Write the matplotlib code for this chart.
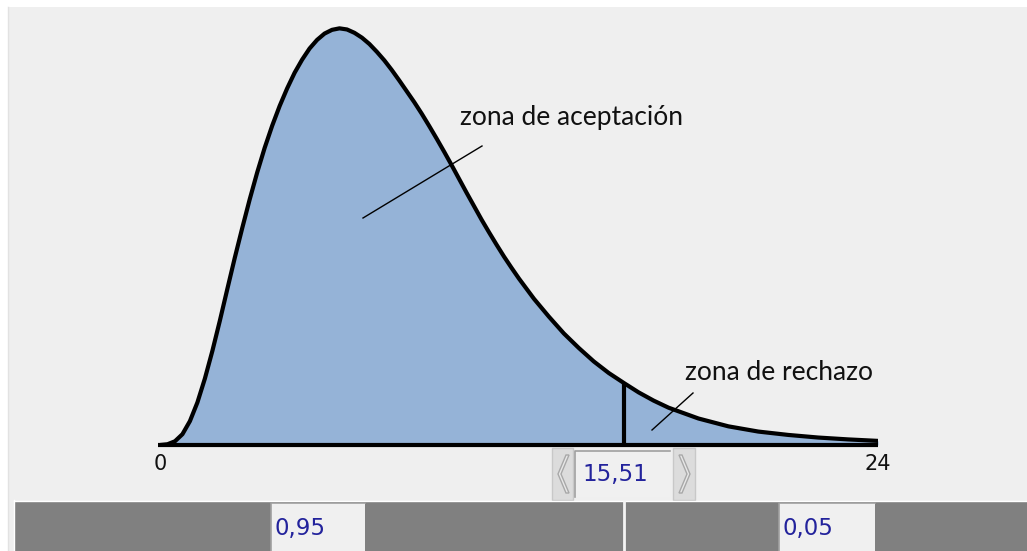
import matplotlib
matplotlib.use("Agg")
import matplotlib.pyplot as plt
from matplotlib.patches import Rectangle, Polygon

# density curve (chi-square, 8 d.f.)
curve_x = [0.0, 0.25, 0.5, 0.75, 1.0, 1.25, 1.5, 1.75, 2.0, 2.25, 2.5, 2.75,
           3.0, 3.25, 3.5, 3.75, 4.0, 4.25, 4.5, 4.75, 5.0, 5.25, 5.5, 5.75,
           6.0, 6.25, 6.5, 6.75, 7.0, 7.25, 7.5, 7.75, 8.0, 8.25, 8.5, 8.75,
           9.0, 9.25, 9.5, 9.75, 10.0, 10.25, 10.5, 10.75, 11.0, 11.25, 11.5,
           11.75, 12.0, 12.5, 13.0, 13.5, 14.0, 14.5, 15.0, 15.51, 16.0, 16.5,
           17.0, 18.0, 19.0, 20.0, 21.0, 22.0, 23.0, 24.0]
curve_y = [0.0, 0.0002, 0.0010, 0.0029, 0.0064, 0.0114, 0.0178, 0.0252, 0.0333,
           0.0418, 0.0502, 0.0582, 0.0659, 0.0731, 0.0797, 0.0856, 0.0909, 0.0956,
           0.0998, 0.1033, 0.1063, 0.1086, 0.1103, 0.1113, 0.1117, 0.1114, 0.1105,
           0.1092, 0.1075, 0.1054, 0.1031, 0.1005, 0.0977, 0.0948, 0.0919, 0.0888,
           0.0855, 0.0821, 0.0786, 0.0750, 0.0713, 0.0676, 0.0640, 0.0604, 0.0570,
           0.0537, 0.0505, 0.0475, 0.0446, 0.0392, 0.0344, 0.0299, 0.0260, 0.0224,
           0.0193, 0.0166, 0.0141, 0.0119, 0.0100, 0.0071, 0.0050, 0.0036, 0.0027,
           0.0020, 0.0015, 0.0011]
x_min, x_max = 0, 24
critical = 15.51
critical_height = 0.0166
tick_labels = ["0", "24"]
crit_label = "15,51"
accept_label = "0,95"
reject_label = "0,05"
zone_labels = ["zona de aceptación", "zona de rechazo"]

W, H = 1027, 551
fig = plt.figure(figsize=(W / 100, H / 100), dpi=100)
fig.patch.set_facecolor("white")

# pixel-coordinate axes for the window chrome
ui = fig.add_axes([0, 0, 1, 1], zorder=0)
ui.set_xlim(0, W)
ui.set_ylim(H, 0)
ui.axis("off")

ui.add_patch(Rectangle((8, 7), W - 8, H - 7, facecolor="#efefef", edgecolor="none"))
ui.plot([8, 8], [7, H], color="#e2e2e2", lw=1)

# bottom bar
ui.add_patch(Rectangle((15, 502), W - 15, 49, facecolor="#808080", edgecolor="none"))
ui.plot([14, W], [500.5, 500.5], color="white", lw=1)
ui.plot([14, 14], [500, H], color="white", lw=1)
ui.plot([623.5, 623.5], [502, H], color="#f4f4f4", lw=2)


def text_box(x0, x1, y0, y1, label, tx):
    ui.add_patch(Rectangle((x0, y0), x1 - x0, y1 - y0, facecolor="#f0f0f0", edgecolor="none"))
    ui.plot([x0, x0, x1], [y1, y0, y0], color="#a0a0a0", lw=1.2)
    ui.text(tx, (y0 + y1) / 2 + 1, label, fontsize=16.5, family="DejaVu Sans",
            color="#23239c", ha="left", va="center")


text_box(271, 365, 503, H + 2, accept_label, 275)
text_box(779, 875, 503, H + 2, reject_label, 783)

# slider
ui.add_patch(Rectangle((552, 448), 21, 52, facecolor="#dcdcdc", edgecolor="#c8c8c8", lw=1))
ui.add_patch(Rectangle((673, 448), 22, 52, facecolor="#dcdcdc", edgecolor="#c8c8c8", lw=1))
ui.add_patch(Polygon([[566, 455], [558, 474], [566, 493], [569, 493], [561, 474], [569, 455]],
                     closed=True, facecolor="#e8e8e8", edgecolor="#a8a8a8", lw=1))
ui.add_patch(Polygon([[679, 455], [687, 474], [679, 493], [682, 493], [690, 474], [682, 455]],
                     closed=True, facecolor="#e8e8e8", edgecolor="#a8a8a8", lw=1))
text_box(575, 670, 451, 497, crit_label, 582)

# curve axes
ax = fig.add_axes([160 / W, 106 / H, 718 / W, 445 / H], zorder=1)
ax.patch.set_alpha(0)
ax.set_xlim(x_min, x_max)
ax.set_ylim(0, 0.1193)
ax.axis("off")

ax.fill_between(curve_x, 0, curve_y, color="#95b3d7", lw=0)
ax.plot(curve_x, curve_y, color="black", lw=3, solid_joinstyle="round")
ax.plot([x_min - 0.07, x_max], [0, 0], color="black", lw=3, solid_capstyle="butt", clip_on=False)
ax.plot([critical, critical], [0, critical_height], color="black", lw=3,
        solid_capstyle="butt", clip_on=False)

# tick labels under the baseline
for v, lab in zip([x_min, x_max], tick_labels):
    ax.text(v, -0.0052, lab, fontsize=15, family="DejaVu Sans", color="#111111",
            ha="center", va="center", clip_on=False)

# zone annotations on top of the curve (pixel coords)
top = fig.add_axes([0, 0, 1, 1], zorder=2)
top.patch.set_alpha(0)
top.set_xlim(0, W)
top.set_ylim(H, 0)
top.axis("off")
top.plot([363, 482], [218, 146], color="black", lw=1)
top.plot([652, 693], [430, 393], color="black", lw=1)
top.text(460, 117, zone_labels[0], fontsize=19, family="Lato", color="#111111",
         ha="left", va="center")
top.text(685, 372, zone_labels[1], fontsize=19, family="Lato", color="#111111",
         ha="left", va="center")

fig.savefig("out.png", dpi=100)
